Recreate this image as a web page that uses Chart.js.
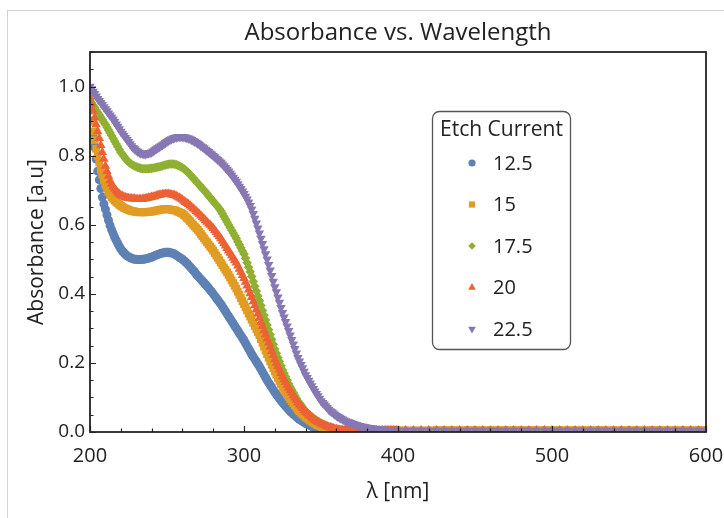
<!DOCTYPE html>
<html>
<head>
<meta charset="utf-8">
<script src="https://cdn.jsdelivr.net/npm/chart.js@4.4.1/dist/chart.umd.min.js"></script>
<style>
  html, body { margin: 0; padding: 0; background: #fff; }
  #wrap { position: relative; width: 724px; height: 518px; overflow: hidden; }
  #edge { position: absolute; left: 7px; top: 10px; right: -5px; bottom: -5px;
          border-left: 1px solid #d3d3d3; border-top: 1px solid #d3d3d3; }
  canvas { position: absolute; left: 0; top: 0; }
</style>
</head>
<body>
<div id="wrap"><div id="edge"></div><canvas id="chart" width="724" height="518"></canvas></div>
<script>
// wavelength in nm: every 1 nm up to 400, every 5 nm after that
const wavelength = [
  200, 201, 202, 203, 204, 205, 206, 207, 208, 209,
  210, 211, 212, 213, 214, 215, 216, 217, 218, 219,
  220, 221, 222, 223, 224, 225, 226, 227, 228, 229,
  230, 231, 232, 233, 234, 235, 236, 237, 238, 239,
  240, 241, 242, 243, 244, 245, 246, 247, 248, 249,
  250, 251, 252, 253, 254, 255, 256, 257, 258, 259,
  260, 261, 262, 263, 264, 265, 266, 267, 268, 269,
  270, 271, 272, 273, 274, 275, 276, 277, 278, 279,
  280, 281, 282, 283, 284, 285, 286, 287, 288, 289,
  290, 291, 292, 293, 294, 295, 296, 297, 298, 299,
  300, 301, 302, 303, 304, 305, 306, 307, 308, 309,
  310, 311, 312, 313, 314, 315, 316, 317, 318, 319,
  320, 321, 322, 323, 324, 325, 326, 327, 328, 329,
  330, 331, 332, 333, 334, 335, 336, 337, 338, 339,
  340, 341, 342, 343, 344, 345, 346, 347, 348, 349,
  350, 351, 352, 353, 354, 355, 356, 357, 358, 359,
  360, 361, 362, 363, 364, 365, 366, 367, 368, 369,
  370, 371, 372, 373, 374, 375, 376, 377, 378, 379,
  380, 381, 382, 383, 384, 385, 386, 387, 388, 389,
  390, 391, 392, 393, 394, 395, 396, 397, 398, 399,
  400,
  405, 410, 415, 420, 425, 430, 435, 440, 445, 450,
  455, 460, 465, 470, 475, 480, 485, 490, 495, 500,
  505, 510, 515, 520, 525, 530, 535, 540, 545, 550,
  555, 560, 565, 570, 575, 580, 585, 590, 595, 600
];

const abs125 = [
  0.94, 0.90, 0.86, 0.825, 0.79, 0.755, 0.73, 0.705, 0.68, 0.66,
  0.645, 0.628, 0.613, 0.598, 0.586, 0.575, 0.564, 0.555, 0.546, 0.538,
  0.53, 0.524, 0.519, 0.514, 0.51, 0.507, 0.505, 0.503, 0.501, 0.50,
  0.50, 0.499, 0.499, 0.499, 0.50, 0.50, 0.501, 0.502, 0.503, 0.505,
  0.506, 0.508, 0.51, 0.512, 0.514, 0.515, 0.517, 0.518, 0.519, 0.52,
  0.52, 0.52, 0.519, 0.518, 0.517, 0.515, 0.512, 0.509, 0.506, 0.503,
  0.50, 0.496, 0.492, 0.488, 0.483, 0.478, 0.473, 0.468, 0.463, 0.457,
  0.452, 0.447, 0.442, 0.437, 0.432, 0.427, 0.422, 0.417, 0.411, 0.406,
  0.40, 0.394, 0.388, 0.382, 0.376, 0.37, 0.363, 0.356, 0.349, 0.342,
  0.335, 0.328, 0.321, 0.314, 0.307, 0.30, 0.293, 0.286, 0.279, 0.272,
  0.265, 0.257, 0.249, 0.241, 0.233, 0.225, 0.218, 0.211, 0.204, 0.197,
  0.19, 0.182, 0.174, 0.166, 0.158, 0.15, 0.143, 0.136, 0.129, 0.122,
  0.115, 0.109, 0.103, 0.097, 0.091, 0.085, 0.08, 0.075, 0.07, 0.065,
  0.06, 0.056, 0.052, 0.048, 0.044, 0.04, 0.037, 0.034, 0.031, 0.028,
  0.025, 0.023, 0.021, 0.019, 0.016, 0.014, 0.012, 0.011, 0.009, 0.008,
  0.007, 0.006, 0.005, 0.005, 0.004, 0.004, 0.003, 0.003, 0.003, 0.003,
  0.003, 0.003, 0.003, 0.003, 0.003, 0.003, 0.003, 0.003, 0.003, 0.003,
  0.003, 0.003, 0.003, 0.003, 0.003, 0.003, 0.003, 0.003, 0.003, 0.003,
  0.003, 0.003, 0.003, 0.003, 0.003, 0.003, 0.003, 0.003, 0.003, 0.003,
  0.003, 0.003, 0.003, 0.003, 0.003, 0.003, 0.003, 0.003, 0.003, 0.003,
  0.003,
  0.003, 0.003, 0.003, 0.003, 0.003, 0.003, 0.003, 0.003, 0.003, 0.003,
  0.003, 0.003, 0.003, 0.003, 0.003, 0.003, 0.003, 0.003, 0.003, 0.003,
  0.003, 0.003, 0.003, 0.003, 0.003, 0.003, 0.003, 0.003, 0.003, 0.003,
  0.003, 0.003, 0.003, 0.003, 0.003, 0.003, 0.003, 0.003, 0.003, 0.003
];

const abs15 = [
  0.93, 0.90, 0.87, 0.845, 0.82, 0.80, 0.78, 0.76, 0.745, 0.73,
  0.715, 0.705, 0.695, 0.687, 0.68, 0.675, 0.67, 0.666, 0.662, 0.658,
  0.655, 0.652, 0.649, 0.647, 0.645, 0.643, 0.641, 0.64, 0.639, 0.638,
  0.637, 0.637, 0.636, 0.636, 0.636, 0.636, 0.636, 0.637, 0.637, 0.638,
  0.638, 0.639, 0.64, 0.641, 0.642, 0.643, 0.644, 0.644, 0.645, 0.645,
  0.645, 0.645, 0.644, 0.643, 0.643, 0.642, 0.64, 0.638, 0.636, 0.634,
  0.632, 0.628, 0.624, 0.619, 0.615, 0.61, 0.605, 0.60, 0.595, 0.59,
  0.585, 0.579, 0.573, 0.567, 0.561, 0.555, 0.549, 0.543, 0.537, 0.531,
  0.525, 0.518, 0.511, 0.504, 0.497, 0.49, 0.483, 0.476, 0.469, 0.462,
  0.455, 0.447, 0.439, 0.431, 0.423, 0.415, 0.406, 0.397, 0.388, 0.379,
  0.37, 0.361, 0.352, 0.343, 0.334, 0.325, 0.316, 0.307, 0.298, 0.289,
  0.28, 0.269, 0.258, 0.247, 0.236, 0.225, 0.215, 0.205, 0.195, 0.185,
  0.175, 0.166, 0.157, 0.148, 0.139, 0.13, 0.123, 0.116, 0.109, 0.102,
  0.095, 0.089, 0.083, 0.077, 0.071, 0.065, 0.06, 0.056, 0.051, 0.047,
  0.043, 0.04, 0.036, 0.033, 0.03, 0.027, 0.025, 0.022, 0.02, 0.018,
  0.016, 0.014, 0.013, 0.011, 0.01, 0.009, 0.008, 0.007, 0.006, 0.006,
  0.005, 0.005, 0.005, 0.005, 0.005, 0.005, 0.005, 0.005, 0.005, 0.005,
  0.005, 0.005, 0.005, 0.005, 0.005, 0.005, 0.005, 0.005, 0.005, 0.005,
  0.005, 0.005, 0.005, 0.005, 0.005, 0.005, 0.005, 0.005, 0.005, 0.005,
  0.005, 0.005, 0.005, 0.005, 0.005, 0.005, 0.005, 0.005, 0.005, 0.005,
  0.005,
  0.005, 0.005, 0.005, 0.005, 0.006, 0.006, 0.006, 0.006, 0.006, 0.006,
  0.006, 0.006, 0.006, 0.006, 0.006, 0.006, 0.006, 0.006, 0.006, 0.006,
  0.006, 0.006, 0.006, 0.006, 0.006, 0.006, 0.006, 0.006, 0.006, 0.006,
  0.006, 0.006, 0.006, 0.006, 0.006, 0.006, 0.006, 0.006, 0.006, 0.006
];

const abs175 = [
  0.96, 0.953, 0.946, 0.939, 0.932, 0.925, 0.918, 0.911, 0.904, 0.897,
  0.89, 0.882, 0.874, 0.866, 0.858, 0.85, 0.842, 0.834, 0.826, 0.818,
  0.81, 0.804, 0.798, 0.792, 0.787, 0.782, 0.778, 0.775, 0.772, 0.77,
  0.768, 0.766, 0.765, 0.763, 0.762, 0.762, 0.762, 0.762, 0.762, 0.763,
  0.763, 0.764, 0.765, 0.766, 0.767, 0.768, 0.769, 0.77, 0.772, 0.773,
  0.774, 0.775, 0.776, 0.776, 0.776, 0.775, 0.774, 0.772, 0.77, 0.768,
  0.765, 0.762, 0.758, 0.754, 0.75, 0.745, 0.74, 0.735, 0.73, 0.725,
  0.72, 0.715, 0.71, 0.705, 0.70, 0.695, 0.69, 0.684, 0.679, 0.673,
  0.668, 0.663, 0.657, 0.652, 0.646, 0.64, 0.632, 0.624, 0.616, 0.608,
  0.60, 0.592, 0.584, 0.576, 0.568, 0.56, 0.551, 0.542, 0.533, 0.524,
  0.515, 0.503, 0.49, 0.477, 0.464, 0.45, 0.436, 0.422, 0.408, 0.394,
  0.38, 0.366, 0.352, 0.338, 0.324, 0.31, 0.296, 0.282, 0.268, 0.254,
  0.24, 0.228, 0.216, 0.204, 0.192, 0.18, 0.17, 0.16, 0.15, 0.14,
  0.13, 0.122, 0.114, 0.106, 0.098, 0.09, 0.084, 0.078, 0.072, 0.066,
  0.06, 0.056, 0.052, 0.048, 0.044, 0.04, 0.037, 0.034, 0.031, 0.028,
  0.025, 0.023, 0.021, 0.019, 0.017, 0.015, 0.013, 0.012, 0.01, 0.009,
  0.008, 0.007, 0.006, 0.006, 0.005, 0.005, 0.005, 0.004, 0.004, 0.004,
  0.004, 0.004, 0.004, 0.004, 0.004, 0.004, 0.004, 0.004, 0.004, 0.004,
  0.004, 0.004, 0.004, 0.004, 0.004, 0.004, 0.004, 0.004, 0.004, 0.004,
  0.004, 0.004, 0.004, 0.004, 0.004, 0.004, 0.004, 0.004, 0.004, 0.004,
  0.004,
  0.004, 0.004, 0.004, 0.004, 0.004, 0.004, 0.004, 0.004, 0.004, 0.004,
  0.004, 0.004, 0.004, 0.004, 0.004, 0.004, 0.004, 0.004, 0.004, 0.004,
  0.004, 0.004, 0.004, 0.004, 0.004, 0.004, 0.004, 0.004, 0.004, 0.004,
  0.004, 0.004, 0.004, 0.004, 0.004, 0.004, 0.004, 0.004, 0.004, 0.004
];

const abs20 = [
  0.97, 0.95, 0.93, 0.91, 0.89, 0.87, 0.85, 0.83, 0.81, 0.79,
  0.77, 0.755, 0.741, 0.728, 0.718, 0.71, 0.704, 0.698, 0.693, 0.689,
  0.685, 0.683, 0.681, 0.679, 0.678, 0.677, 0.676, 0.676, 0.675, 0.675,
  0.674, 0.674, 0.674, 0.674, 0.674, 0.675, 0.676, 0.677, 0.678, 0.679,
  0.68, 0.681, 0.682, 0.684, 0.685, 0.686, 0.687, 0.688, 0.688, 0.689,
  0.689, 0.689, 0.688, 0.687, 0.686, 0.685, 0.683, 0.68, 0.678, 0.675,
  0.672, 0.669, 0.665, 0.662, 0.659, 0.655, 0.651, 0.647, 0.643, 0.639,
  0.635, 0.631, 0.626, 0.622, 0.617, 0.612, 0.608, 0.603, 0.599, 0.594,
  0.59, 0.584, 0.578, 0.572, 0.566, 0.56, 0.553, 0.546, 0.539, 0.532,
  0.525, 0.518, 0.511, 0.504, 0.497, 0.49, 0.481, 0.472, 0.463, 0.454,
  0.445, 0.434, 0.423, 0.412, 0.401, 0.39, 0.378, 0.366, 0.354, 0.342,
  0.33, 0.318, 0.306, 0.294, 0.282, 0.27, 0.258, 0.246, 0.234, 0.222,
  0.21, 0.20, 0.19, 0.18, 0.17, 0.16, 0.152, 0.144, 0.136, 0.128,
  0.12, 0.113, 0.106, 0.099, 0.092, 0.085, 0.079, 0.074, 0.069, 0.063,
  0.058, 0.054, 0.05, 0.046, 0.042, 0.038, 0.035, 0.032, 0.029, 0.027,
  0.024, 0.022, 0.02, 0.018, 0.016, 0.014, 0.013, 0.012, 0.01, 0.009,
  0.008, 0.007, 0.006, 0.006, 0.005, 0.005, 0.005, 0.004, 0.004, 0.004,
  0.004, 0.004, 0.004, 0.004, 0.004, 0.004, 0.004, 0.004, 0.004, 0.004,
  0.004, 0.004, 0.004, 0.004, 0.004, 0.004, 0.004, 0.004, 0.004, 0.004,
  0.004, 0.004, 0.004, 0.004, 0.004, 0.004, 0.004, 0.004, 0.004, 0.004,
  0.004,
  0.004, 0.004, 0.004, 0.004, 0.004, 0.004, 0.004, 0.004, 0.004, 0.004,
  0.004, 0.004, 0.004, 0.004, 0.004, 0.004, 0.004, 0.004, 0.004, 0.004,
  0.004, 0.004, 0.004, 0.004, 0.004, 0.004, 0.004, 0.004, 0.004, 0.004,
  0.004, 0.004, 0.004, 0.004, 0.004, 0.004, 0.004, 0.004, 0.004, 0.004
];

const abs225 = [
  1.0, 0.993, 0.986, 0.979, 0.972, 0.965, 0.959, 0.953, 0.947, 0.941,
  0.935, 0.929, 0.923, 0.917, 0.911, 0.905, 0.898, 0.891, 0.884, 0.877,
  0.87, 0.864, 0.858, 0.852, 0.846, 0.84, 0.834, 0.828, 0.823, 0.819,
  0.815, 0.812, 0.809, 0.807, 0.806, 0.805, 0.805, 0.806, 0.807, 0.808,
  0.81, 0.813, 0.816, 0.819, 0.822, 0.825, 0.828, 0.831, 0.834, 0.837,
  0.84, 0.843, 0.846, 0.848, 0.85, 0.852, 0.853, 0.854, 0.855, 0.855,
  0.855, 0.854, 0.853, 0.851, 0.85, 0.848, 0.846, 0.843, 0.841, 0.838,
  0.835, 0.832, 0.828, 0.825, 0.822, 0.818, 0.814, 0.811, 0.807, 0.804,
  0.80, 0.796, 0.792, 0.788, 0.784, 0.78, 0.775, 0.77, 0.765, 0.76,
  0.755, 0.749, 0.743, 0.737, 0.731, 0.725, 0.718, 0.711, 0.704, 0.697,
  0.69, 0.682, 0.674, 0.665, 0.655, 0.645, 0.632, 0.618, 0.604, 0.59,
  0.575, 0.56, 0.545, 0.53, 0.515, 0.50, 0.484, 0.468, 0.452, 0.436,
  0.42, 0.405, 0.39, 0.375, 0.36, 0.345, 0.332, 0.319, 0.306, 0.293,
  0.28, 0.267, 0.254, 0.241, 0.228, 0.215, 0.205, 0.195, 0.185, 0.175,
  0.165, 0.157, 0.149, 0.141, 0.133, 0.125, 0.118, 0.111, 0.104, 0.097,
  0.09, 0.085, 0.08, 0.075, 0.07, 0.065, 0.061, 0.058, 0.054, 0.051,
  0.047, 0.044, 0.042, 0.039, 0.037, 0.034, 0.032, 0.03, 0.029, 0.027,
  0.025, 0.024, 0.022, 0.021, 0.019, 0.018, 0.017, 0.016, 0.015, 0.014,
  0.013, 0.012, 0.012, 0.011, 0.01, 0.009, 0.009, 0.008, 0.008, 0.008,
  0.007, 0.007, 0.006, 0.006, 0.006, 0.005, 0.005, 0.005, 0.005, 0.004,
  0.004,
  0.004, 0.004, 0.004, 0.004, 0.004, 0.004, 0.004, 0.004, 0.004, 0.004,
  0.004, 0.004, 0.004, 0.004, 0.004, 0.004, 0.004, 0.004, 0.004, 0.004,
  0.004, 0.004, 0.004, 0.004, 0.004, 0.004, 0.004, 0.004, 0.004, 0.004,
  0.004, 0.004, 0.004, 0.004, 0.004, 0.004, 0.004, 0.004, 0.004, 0.004
];

const chartTitle = 'Absorbance vs. Wavelength';
const legendTitle = 'Etch Current';
const etchCurrents = ['12.5', '15', '17.5', '20', '22.5'];
const xTicks = [200, 300, 400, 500, 600];
const yTicks = [0, 0.2, 0.4, 0.6, 0.8, 1.0];

const FONT = '"Open Sans", "Noto Sans", sans-serif';
const INK = '#222';

function series(label, values, color, style, radius, rotation, order) {
  return {
    label: label,
    data: wavelength.map((x, i) => ({ x: x, y: values[i] })),
    showLine: false,
    backgroundColor: color,
    borderColor: color,
    pointStyle: style,
    pointRadius: radius,
    pointRotation: rotation,
    pointBorderWidth: 0,
    pointHoverRadius: radius,
    order: order
  };
}

// later series are drawn on top, as in the original plot
const datasets = [
  series(etchCurrents[0], abs125, '#5e81b5', 'circle', 4.5, 0, 5),
  series(etchCurrents[1], abs15, '#e19c24', 'rect', 5.5, 0, 4),
  series(etchCurrents[2], abs175, '#8fb032', 'rectRot', 4.8, 0, 3),
  series(etchCurrents[3], abs20, '#eb6235', 'triangle', 5.5, 0, 2),
  series(etchCurrents[4], abs225, '#8778b3', 'triangle', 5.5, 180, 1)
];

// frame with inward ticks, and the title centred over the frame
const framePlugin = {
  id: 'frame',
  afterDatasetsDraw(chart) {
    const { ctx, chartArea: a, scales: { x, y } } = chart;
    ctx.save();
    ctx.strokeStyle = INK;
    ctx.lineWidth = 1.2;
    ctx.beginPath();
    for (let v = 200; v <= 600; v += 20) {
      const px = Math.round(x.getPixelForValue(v)) + 0.5;
      const len = v % 100 === 0 ? 6 : 3.5;
      ctx.moveTo(px, a.bottom);
      ctx.lineTo(px, a.bottom - len);
    }
    for (let k = 0; k <= 22; k++) {
      const py = Math.round(y.getPixelForValue(k * 0.05)) + 0.5;
      const len = k % 4 === 0 ? 6 : 3.5;
      ctx.moveTo(a.left, py);
      ctx.lineTo(a.left + len, py);
    }
    ctx.stroke();
    ctx.lineWidth = 1.8;
    ctx.strokeRect(a.left, a.top, a.right - a.left, a.bottom - a.top);

    ctx.fillStyle = INK;
    ctx.font = '24px ' + FONT;
    ctx.textAlign = 'center';
    ctx.textBaseline = 'middle';
    ctx.fillText(chartTitle, (a.left + a.right) / 2, 33);
    ctx.restore();
  }
};

// boxed legend inside the plot
const legendPlugin = {
  id: 'boxLegend',
  afterDraw(chart) {
    const ctx = chart.ctx;
    const bx = 432.5, by = 111.5, bw = 138, bh = 238, r = 7;
    ctx.save();
    ctx.beginPath();
    ctx.moveTo(bx + r, by);
    ctx.lineTo(bx + bw - r, by);
    ctx.arcTo(bx + bw, by, bx + bw, by + r, r);
    ctx.lineTo(bx + bw, by + bh - r);
    ctx.arcTo(bx + bw, by + bh, bx + bw - r, by + bh, r);
    ctx.lineTo(bx + r, by + bh);
    ctx.arcTo(bx, by + bh, bx, by + bh - r, r);
    ctx.lineTo(bx, by + r);
    ctx.arcTo(bx, by, bx + r, by, r);
    ctx.closePath();
    ctx.fillStyle = '#fff';
    ctx.fill();
    ctx.strokeStyle = '#555';
    ctx.lineWidth = 1.3;
    ctx.stroke();

    ctx.fillStyle = INK;
    ctx.font = '21px ' + FONT;
    ctx.textBaseline = 'middle';
    ctx.textAlign = 'center';
    ctx.fillText(legendTitle, bx + bw / 2, 130);
    ctx.font = '20px ' + FONT;
    ctx.textAlign = 'left';
    chart.data.datasets.forEach((ds, i) => {
      const yy = 163 + i * 41.5;
      ctx.fillStyle = ds.backgroundColor;
      Chart.helpers.drawPoint(ctx, {
        pointStyle: ds.pointStyle,
        radius: ds.pointRadius * 0.8,
        rotation: ds.pointRotation,
        borderWidth: 0
      }, 472, yy);
      ctx.fillStyle = INK;
      ctx.fillText(ds.label, 493, yy + 1);
    });
    ctx.restore();
  }
};

new Chart(document.getElementById('chart'), {
  type: 'scatter',
  data: { datasets: datasets },
  plugins: [framePlugin, legendPlugin],
  options: {
    responsive: false,
    animation: false,
    layout: { padding: { left: 0, right: 18, top: 52, bottom: 0 } },
    plugins: {
      legend: { display: false },
      tooltip: { enabled: false },
      title: { display: false }
    },
    scales: {
      x: {
        type: 'linear',
        min: 200,
        max: 600,
        afterBuildTicks: s => { s.ticks = xTicks.map(v => ({ value: v })); },
        afterFit: s => { s.height = 86; s.paddingLeft = 0; s.paddingRight = 0; },
        grid: { display: false, drawTicks: false },
        border: { display: false },
        ticks: { color: INK, padding: 12, maxRotation: 0, font: { family: FONT, size: 20 } },
        title: {
          display: true,
          text: 'λ [nm]',
          color: INK,
          font: { family: FONT, size: 21 },
          padding: { top: 0, bottom: 13 }
        }
      },
      y: {
        type: 'linear',
        min: 0,
        max: 1.1,
        afterBuildTicks: s => { s.ticks = yTicks.map(v => ({ value: v })); },
        afterFit: s => { s.width = 90; },
        grid: { display: false, drawTicks: false },
        border: { display: false },
        ticks: {
          color: INK,
          padding: 5,
          font: { family: FONT, size: 19 },
          callback: v => v.toFixed(1)
        },
        title: {
          display: true,
          text: 'Absorbance [a.u]',
          color: INK,
          font: { family: FONT, size: 21 },
          padding: { top: 24, bottom: 0 }
        }
      }
    }
  }
});
</script>
</body>
</html>
